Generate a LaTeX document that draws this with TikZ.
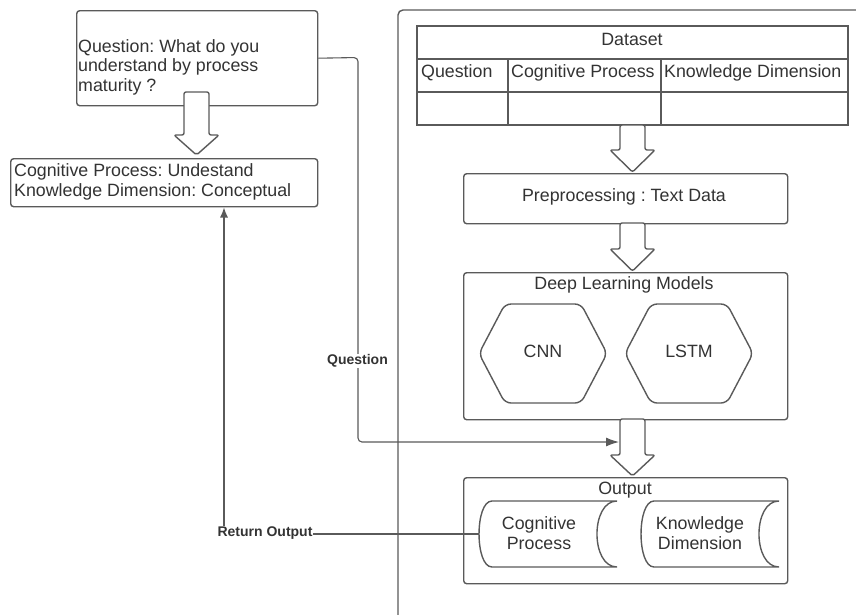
\documentclass[tikz,border=0pt]{standalone}
\usepackage{fontspec}
\setmainfont{Liberation Sans}
\usetikzlibrary{arrows.meta}
\definecolor{ln}{HTML}{5A5A5A}
\definecolor{tx}{HTML}{333333}
\frenchspacing
\newcommand\blockarr[4]{\draw[barrow] (#1-12.5,#2) -- (#1+12.5,#2) -- (#1+12.5,#3) -- (#1+22.5,#3) -- (#1,#4) -- (#1-22.5,#3) -- (#1-12.5,#3) -- cycle;}
\begin{document}
\frenchspacing
\begin{tikzpicture}[x=1pt,y=-1pt,
  font=\fontsize{17.8}{19.5}\selectfont, text=tx,
  box/.style={draw=ln, line width=1.4pt, rounded corners=3pt, fill=white},
  frame/.style={draw=ln, line width=1.4pt},
  conn/.style={draw=ln, line width=1.1pt},
  barrow/.style={draw=ln, line width=1.4pt, fill=white, rounded corners=2pt, line join=round},
  txt/.style={inner sep=0pt, text=tx},
  elabel/.style={font=\fontsize{14}{16}\selectfont\bfseries, fill=white, inner sep=1pt, text=tx}]
\useasboundingbox (0,0) rectangle (856,614);
\clip (0,0) rectangle (856,614);
\fill[white] (0,0) rectangle (856,614);

% container
\draw[frame, rounded corners=5pt] (398,630) -- (398,10) -- (870,10);

% left side boxes
\node[box, minimum width=241pt, minimum height=95pt, anchor=north west] (q) at (76,10) {};
\node[txt, anchor=west, align=left] (qt) at (78,67) {Question: What do you\\understand by process\\maturity ?};
\node[box, minimum width=307pt, minimum height=48pt, anchor=north west] (res) at (10,158) {};
\node[txt, anchor=west, align=left] (rt) at (14,182) {Cognitive Process: Undestand\\Knowledge Dimension: Conceptual};
\blockarr{196.5}{92}{135}{155}

% dataset table
\draw[draw=ln, line width=1.1pt] (417,26) rectangle (848,125);
\draw[draw=ln, line width=1.1pt] (417,59) -- (848,59) (417,92) -- (848,92) (508,59) -- (508,125) (661,59) -- (661,125);
\node[txt] (ds) at (632,39) {Dataset};
\node[txt, anchor=west] (c1h) at (421,73) {Question};
\node[txt, anchor=west] (c2h) at (511,73) {Cognitive Process};
\node[txt, anchor=west] (c3h) at (664,73) {Knowledge Dimension};

% pipeline
\node[box, minimum width=324pt, minimum height=50pt, anchor=north west] (pre) at (463,173) {};
\node[txt] (pret) at (624,197) {Preprocessing : Text Data};
\node[box, minimum width=324pt, minimum height=147pt, anchor=north west] (dl) at (463,272) {};
\node[txt] (dlt) at (624,285) {Deep Learning Models};
\draw[box, rounded corners=6pt] (543,304) -- (581,304) -- (607,353.5) -- (581,403) -- (505,403) -- (479,353.5) -- (505,304) -- cycle;
\node[txt] (cnn) at (543,351) {CNN};
\draw[box, rounded corners=6pt] (689,304) -- (727,304) -- (753,353.5) -- (727,403) -- (651,403) -- (625,353.5) -- (651,304) -- cycle;
\node[txt] (lstm) at (689,351) {LSTM};
\node[box, minimum width=324pt, minimum height=106pt, anchor=north west] (out) at (463,477) {};
\node[txt] (outt) at (625,490) {Output};
\draw[box, rounded corners=0pt] (492,501) -- (617,501) .. controls (590.3,501) and (590.3,567) .. (617,567) -- (492,567) .. controls (474.7,567) and (474.7,501) .. (492,501) -- cycle;
\node[txt, align=center] (cp) at (539,533) {Cognitive\\Process};
\draw[box, rounded corners=0pt] (654,501) -- (779,501) .. controls (752.3,501) and (752.3,567) .. (779,567) -- (654,567) .. controls (636.7,567) and (636.7,501) .. (654,501) -- cycle;
\node[txt, align=center] (kd) at (700,533) {Knowledge\\Dimension};

\blockarr{632.5}{125}{150}{172}
\blockarr{632.5}{223}{249}{271}
\blockarr{632.5}{419}{455}{476}

% connectors
\coordinate (qin) at (619,442);
\coordinate (cpw) at (479,534);
\coordinate (rin) at (224,207.5);
\draw[conn, rounded corners=4pt, -{Latex[length=13pt,width=9pt]}] (q.east) -- (358,57.5) -- (358,442) -- (qin);
\node[elabel] (ql) at (357.5,361) {Question};
\draw[conn, -{Latex[length=10pt,width=8pt]}] (cpw) -| (rin);
\node[elabel] (rl) at (265,533) {Return Output};
\end{tikzpicture}
\end{document}
